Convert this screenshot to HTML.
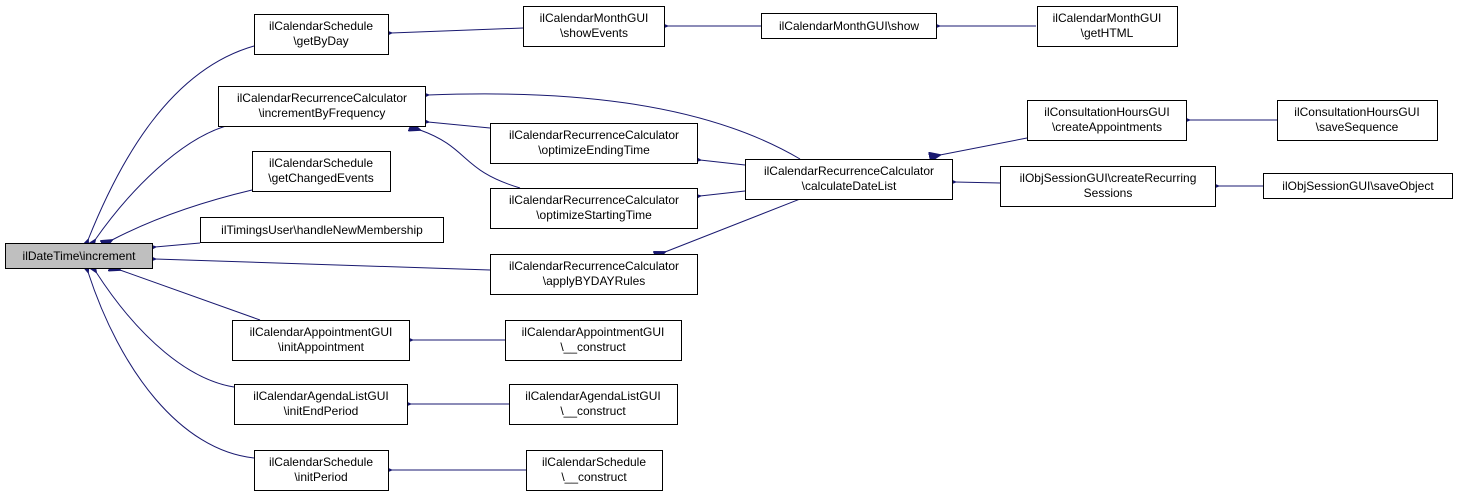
<!DOCTYPE html>
<html><head><meta charset="utf-8"><style>
html,body{margin:0;padding:0;background:#fff;}
svg{display:block;}
text{font-family:"Liberation Sans",sans-serif;font-size:12px;fill:#000;text-anchor:middle;}
rect{fill:#fff;stroke:#000;stroke-width:1;}
path{fill:none;stroke:#191970;stroke-width:1;}
</style></head><body>
<svg width="1457" height="496" viewBox="0 0 1457 496" xmlns="http://www.w3.org/2000/svg">
<defs><marker id="a" markerWidth="12" markerHeight="10" refX="1" refY="5" orient="auto-start-reverse" markerUnits="userSpaceOnUse"><path d="M12,0 L0,5 L12,10 Z" style="fill:#191970;stroke:#191970"/></marker></defs>

<!-- edges (arrow at start) -->
<path marker-start="url(#a)" d="M88,240 C120,160 170,70 254,46"/>
<path marker-start="url(#a)" d="M95,240 C130,190 180,140 226,126"/>
<path marker-start="url(#a)" d="M112,240 C160,215 210,200 252,190"/>
<path marker-start="url(#a)" d="M155,247 L200,243"/>
<path marker-start="url(#a)" d="M155,259 L490,270"/>
<path marker-start="url(#a)" d="M120,270 L260,320"/>
<path marker-start="url(#a)" d="M96,272 C140,340 190,380 234,387"/>
<path marker-start="url(#a)" d="M88,272 C120,370 180,450 254,458"/>
<path marker-start="url(#a)" d="M391,33 L523,28"/>
<path marker-start="url(#a)" d="M667,26 L761,26"/>
<path marker-start="url(#a)" d="M939,26 L1036,26"/>
<path marker-start="url(#a)" d="M428,95 C560,90 700,100 800,159"/>
<path marker-start="url(#a)" d="M428,122 L490,128"/>
<path marker-start="url(#a)" d="M420,130 C470,148 460,170 520,188"/>
<path marker-start="url(#a)" d="M700,160 L745,165"/>
<path marker-start="url(#a)" d="M700,196 L745,191"/>
<path marker-start="url(#a)" d="M665,252 C720,230 760,215 800,199"/>
<path marker-start="url(#a)" d="M940,155 L1027,138"/>
<path marker-start="url(#a)" d="M955,182 L1000,183"/>
<path marker-start="url(#a)" d="M1189,120 L1277,120"/>
<path marker-start="url(#a)" d="M1218,186 L1263,186"/>
<path marker-start="url(#a)" d="M412,340 L505,340"/>
<path marker-start="url(#a)" d="M410,404 L509,404"/>
<path marker-start="url(#a)" d="M391,470 L526,470"/>

<!-- nodes -->
<rect x="5.5" y="243.5" width="147" height="25" style="fill:#bfbfbf"/><text x="79" y="260">ilDateTime\increment</text>
<rect x="254.5" y="14.5" width="134" height="40"/><text x="321" y="30">ilCalendarSchedule</text><text x="321" y="45">\getByDay</text>
<rect x="218.5" y="86.5" width="207" height="40"/><text x="322" y="102">ilCalendarRecurrenceCalculator</text><text x="322" y="117">\incrementByFrequency</text>
<rect x="252.5" y="151.5" width="138" height="40"/><text x="321" y="167">ilCalendarSchedule</text><text x="321" y="182">\getChangedEvents</text>
<rect x="200.5" y="217.5" width="243" height="25"/><text x="322" y="234">ilTimingsUser\handleNewMembership</text>
<rect x="523.5" y="6.5" width="141" height="40"/><text x="594" y="22">ilCalendarMonthGUI</text><text x="594" y="37">\showEvents</text>
<rect x="761.5" y="13.5" width="175" height="25"/><text x="849" y="30">ilCalendarMonthGUI\show</text>
<rect x="1037.5" y="6.5" width="140" height="40"/><text x="1107" y="22">ilCalendarMonthGUI</text><text x="1107" y="37">\getHTML</text>
<rect x="490.5" y="123.5" width="207" height="40"/><text x="594" y="139">ilCalendarRecurrenceCalculator</text><text x="594" y="154">\optimizeEndingTime</text>
<rect x="490.5" y="188.5" width="207" height="40"/><text x="594" y="204">ilCalendarRecurrenceCalculator</text><text x="594" y="219">\optimizeStartingTime</text>
<rect x="490.5" y="254.5" width="207" height="40"/><text x="594" y="270">ilCalendarRecurrenceCalculator</text><text x="594" y="285">\applyBYDAYRules</text>
<rect x="745.5" y="159.5" width="207" height="40"/><text x="849" y="175">ilCalendarRecurrenceCalculator</text><text x="849" y="190">\calculateDateList</text>
<rect x="1027.5" y="100.5" width="159" height="40"/><text x="1107" y="116">ilConsultationHoursGUI</text><text x="1107" y="131">\createAppointments</text>
<rect x="1277.5" y="100.5" width="160" height="40"/><text x="1357" y="116">ilConsultationHoursGUI</text><text x="1357" y="131">\saveSequence</text>
<rect x="1000.5" y="166.5" width="215" height="40"/><text x="1108" y="182">ilObjSessionGUI\createRecurring</text><text x="1108" y="197">Sessions</text>
<rect x="1263.5" y="173.5" width="189" height="25"/><text x="1358" y="190">ilObjSessionGUI\saveObject</text>
<rect x="232.5" y="320.5" width="177" height="40"/><text x="321" y="336">ilCalendarAppointmentGUI</text><text x="321" y="351">\initAppointment</text>
<rect x="505.5" y="320.5" width="176" height="40"/><text x="593" y="336">ilCalendarAppointmentGUI</text><text x="593" y="351">\__construct</text>
<rect x="234.5" y="384.5" width="173" height="40"/><text x="321" y="400">ilCalendarAgendaListGUI</text><text x="321" y="415">\initEndPeriod</text>
<rect x="509.5" y="384.5" width="168" height="40"/><text x="593" y="400">ilCalendarAgendaListGUI</text><text x="593" y="415">\__construct</text>
<rect x="254.5" y="450.5" width="134" height="40"/><text x="321" y="466">ilCalendarSchedule</text><text x="321" y="481">\initPeriod</text>
<rect x="526.5" y="450.5" width="136" height="40"/><text x="594" y="466">ilCalendarSchedule</text><text x="594" y="481">\__construct</text>
</svg>
</body></html>
